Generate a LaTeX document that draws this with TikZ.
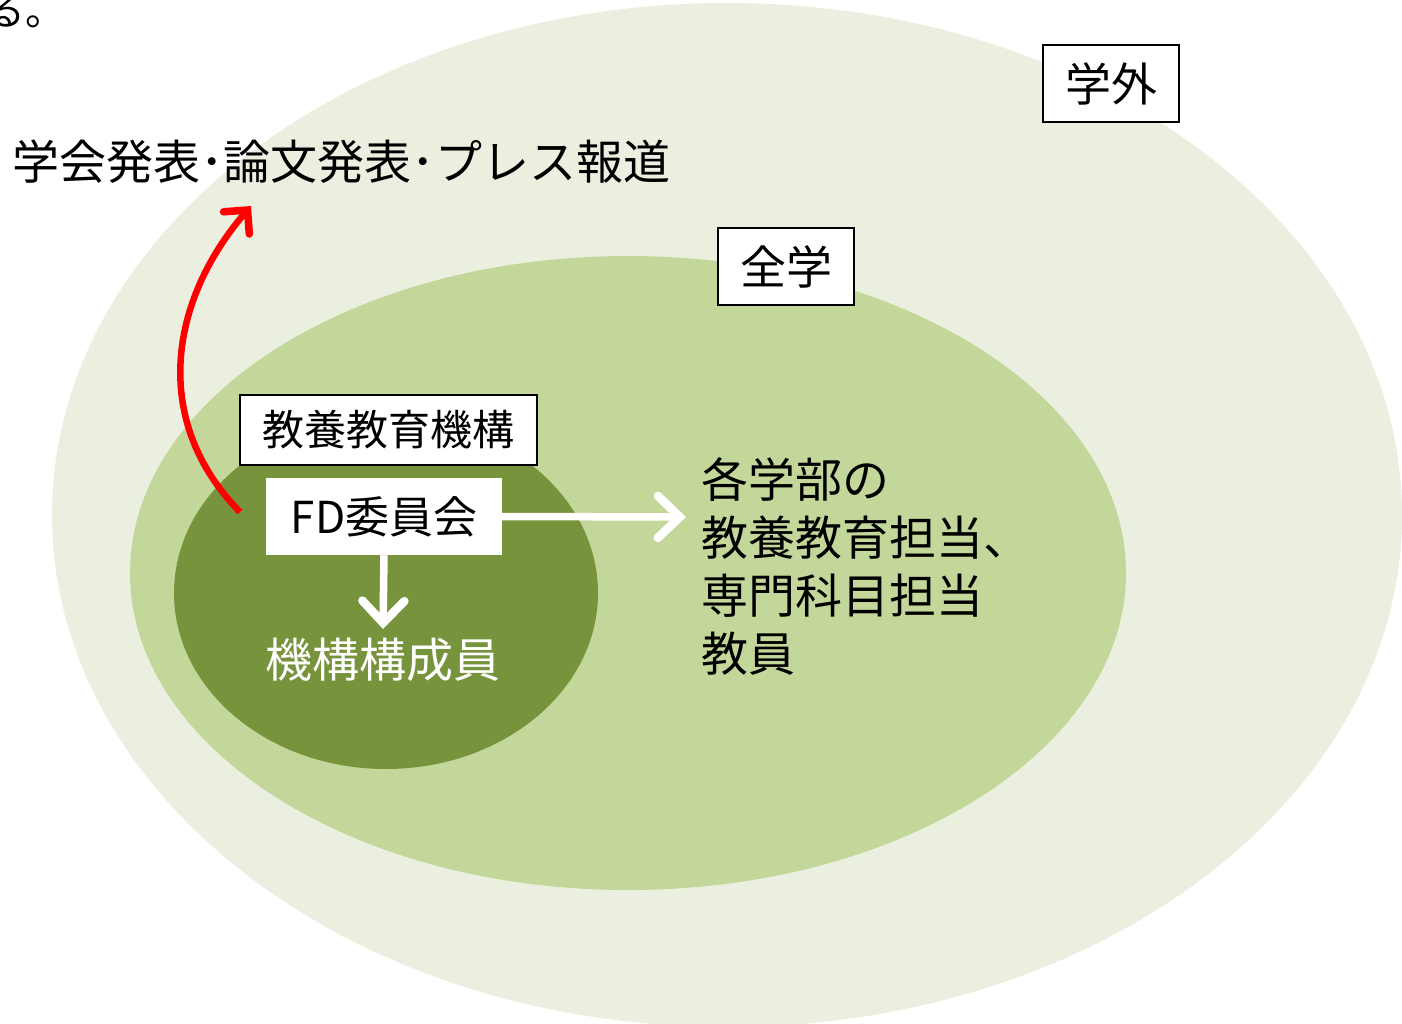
\documentclass[tikz,border=0pt]{standalone}
\usepackage{fontspec}
\setmainfont{Noto Sans CJK JP}
\newfontfamily\jpf{Noto Sans CJK JP}
\usetikzlibrary{arrows.meta}
\definecolor{outerc}{HTML}{EBEFDF}
\definecolor{midc}{HTML}{C4D79B}
\definecolor{innerc}{HTML}{77933C}
\definecolor{redc}{HTML}{FF0000}
\tikzset{
  labelbox/.style={draw=black, line width=1.2pt, fill=white, inner sep=0pt, font=\jpf\fontsize{46}{50}\selectfont},
  plainlabel/.style={inner sep=0pt, font=\jpf\fontsize{42}{46}\selectfont},
  whitearrow/.style={draw=white, line width=7.5pt, -{Straight Barb[length=22pt,width=42pt,line cap=round,line width=8.5pt]}},
  redarrow/.style={draw=redc, line width=6.5pt, -{Straight Barb[length=17pt,width=34pt,line cap=round,line width=7.5pt]}}
}
\begin{document}
\begin{tikzpicture}[x=1pt,y=-1pt]
\useasboundingbox (0,0) rectangle (1402,1023);
\begin{scope}
\clip (0,0) rectangle (1402,1023);
\fill[white] (0,0) rectangle (1402,1023);
\node[plainlabel, anchor=east, font=\jpf\fontsize{40}{44}\selectfont] (ru) at (66,12) {る。};
\fill[outerc] (727,515) ellipse [x radius=675, y radius=512];
\fill[midc] (628,573) ellipse [x radius=498, y radius=317];
\fill[innerc] (386,593) ellipse [x radius=212, y radius=176];
\end{scope}
\node[labelbox, minimum width=136pt, minimum height=77pt] (gakugai) at (1111,83.5) {学外};
\node[labelbox, minimum width=136pt, minimum height=77pt] (zengaku) at (786,266.5) {全学};
\node[labelbox, minimum width=297pt, minimum height=70pt, font=\jpf\fontsize{42}{46}\selectfont] (kikou) at (388.5,430) {教養教育機構};
\node[fill=white, inner sep=0pt, minimum width=236pt, minimum height=77pt, font=\jpf\fontsize{44}{48}\selectfont] (fd) at (384,516.5) {FD委員会};
\node[plainlabel, anchor=west, font=\jpf\fontsize{47}{50}\selectfont] (gakkai) at (12,162) {学会発表･論文発表･プレス報道};
\node[plainlabel, text=white, font=\jpf\fontsize{47}{50}\selectfont] (kousei) at (383,660) {機構構成員};
\node[plainlabel, anchor=north west, align=left, font=\jpf\fontsize{47}{58}\selectfont] (kaku) at (701,457) {各学部の\\教養教育担当、\\専門科目担当\\教員};
\coordinate (rstart) at (240,512);
\coordinate (rend) at (251,206);
\draw[redarrow] (rstart) .. controls (150,420) and (170,300) .. (rend);
\coordinate (wend) at (686,517);
\draw[whitearrow] (fd.east) -- (wend);
\coordinate (dend) at (383,629);
\draw[whitearrow] (fd.south) -- (dend);
\end{tikzpicture}
\end{document}
